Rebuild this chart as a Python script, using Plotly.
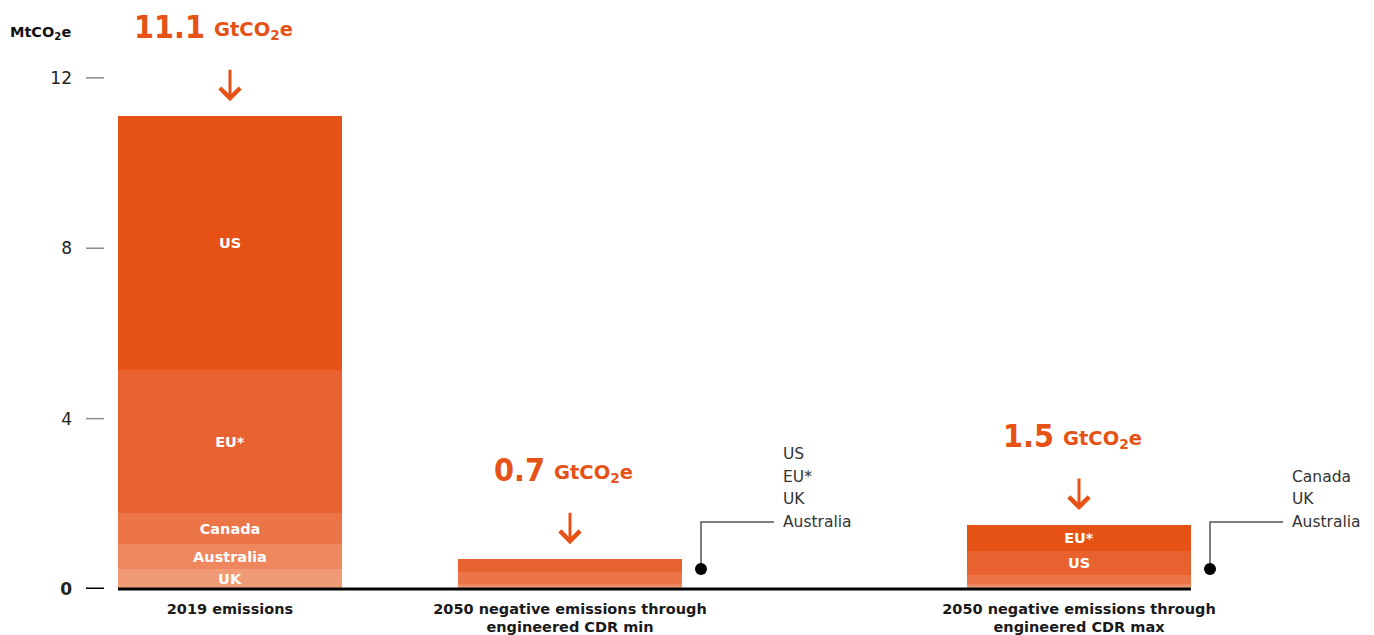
import plotly.graph_objects as go

# ---------------- data ----------------
categories = [
    "2019 emissions",
    "2050 negative emissions through<br>engineered CDR min",
    "2050 negative emissions through<br>engineered CDR max",
]
totals = [11.1, 0.7, 1.5]
# stacked segments, listed bottom -> top
seg_countries = [
    ["UK", "Australia", "Canada", "EU*", "US"],
    ["Australia", "UK", "EU*", "US"],
    ["Australia", "UK", "Canada", "US", "EU*"],
]
seg_values = [
    [0.46, 0.59, 0.73, 3.36, 5.96],
    [0.06, 0.06, 0.28, 0.30],
    [0.07, 0.05, 0.21, 0.57, 0.60],
]
seg_labelled = [
    [True, True, True, True, True],
    [False, False, False, False],
    [False, False, False, True, True],
]
callout_lists = [None, ["US", "EU*", "UK", "Australia"], ["Canada", "UK", "Australia"]]
y_ticks = [0, 4, 8, 12]
y_ticktext = ["<b>0</b>", "4", "8", "12"]

# ---------------- styling / layout ----------------
colors_by_level = ["#F09A76", "#EE875D", "#EB7546", "#E8622F", "#E65216"]
ORANGE = "#E65216"
FONT = "DejaVu Sans"
BIG = "DejaVu Sans Condensed"

OFF = 8  # page body margin
W, H = 1374 - OFF, 635 - OFF
ML, MT = 118 - OFF, 14 - OFF
PLOT_BOTTOM = 589 - OFF
MB = H - PLOT_BOTTOM
MR = 0
PLOT_W = W - ML - MR
PLOT_H = H - MT - MB
Y_MAX = 13.5
PPU = PLOT_H / Y_MAX  # pixels per unit

bar_x = [112, 452, 961]
bar_w = 224

fig = go.Figure()

for i, (countries, vals, lab) in enumerate(zip(seg_countries, seg_values, seg_labelled)):
    for j, (c, v, show) in enumerate(zip(countries, vals, lab)):
        bar_kwargs = dict(
            x=[bar_x[i]], y=[v], width=[bar_w],
            marker=dict(color=colors_by_level[j], line=dict(width=0)),
            name=c, showlegend=False, hoverinfo="name+y",
        )
        if show:
            bar_kwargs.update(
                text=[c], textposition="inside", insidetextanchor="middle", textangle=0,
                textfont=dict(family=FONT, size=14.5, color="white", weight="bold"),
            )
        fig.add_trace(go.Bar(**bar_kwargs))

shapes = []
annotations = []

# baseline
shapes.append(dict(type="line", xref="x", yref="paper", x0=0, x1=bar_x[2] + bar_w / 2,
                   y0=0, y1=0, line=dict(color="black", width=3)))
# y tick dashes (page px 86..104)
for t in y_ticks:
    shapes.append(dict(type="line", xref="paper", yref="y",
                       x0=(86 - 118) / PLOT_W, x1=(104 - 118) / PLOT_W, y0=t, y1=t,
                       line=dict(color="black" if t == 0 else "#8a8a8a", width=3 if t == 0 else 1.5)))

# totals + arrows
for i, tot in enumerate(totals):
    top = sum(seg_values[i])
    annotations.append(dict(
        x=bar_x[i], y=top, xref="x", yref="y", yshift=89, xshift=-23,
        yanchor="middle", xanchor="right", showarrow=False,
        text=f"{tot:g}",
        font=dict(family=BIG, size=32, color=ORANGE, weight="bold"),
    ))
    annotations.append(dict(
        x=bar_x[i], y=top, xref="x", yref="y", yshift=86, xshift=-18,
        yanchor="middle", xanchor="left", showarrow=False,
        text="GtCO<sub>2</sub>e",
        font=dict(family=FONT, size=19.5, color=ORANGE, weight="bold"),
    ))
    annotations.append(dict(
        x=bar_x[i], y=top, xref="x", yref="y", yshift=15, ax=0, ay=-33,
        showarrow=True, arrowhead=4, arrowsize=1.3, arrowwidth=3, arrowcolor=ORANGE, text="",
    ))

# callouts
dot_val = 20 / PPU
elbow_val = 67 / PPU
line_gap = 22.6 / PPU
for i, lst in enumerate(callout_lists):
    if not lst:
        continue
    right = bar_x[i] + bar_w / 2
    dx = right + 19
    ex = right + 92
    tx = right + 99
    shapes.append(dict(type="path", xref="x", yref="y",
                       path=f"M{dx},{dot_val} L{dx},{elbow_val} L{ex},{elbow_val}",
                       line=dict(color="#555555", width=1.5)))
    shapes.append(dict(type="circle", xref="x", yref="y", xsizemode="pixel", ysizemode="pixel",
                       xanchor=dx, yanchor=dot_val, x0=-6, x1=6, y0=-6, y1=6,
                       fillcolor="black", line=dict(color="black", width=0)))
    for k, name in enumerate(reversed(lst)):
        annotations.append(dict(
            x=tx, y=elbow_val + k * line_gap, xref="x", yref="y", xanchor="left", yanchor="middle",
            showarrow=False, text=name, font=dict(family=FONT, size=15.5, color="#333333"),
        ))

# unit label
annotations.append(dict(
    x=(8 - 118) / PLOT_W, y=(589 - 33) / PLOT_H, xref="paper", yref="paper",
    xanchor="left", yanchor="middle", showarrow=False,
    text="<b>MtCO<sub>2</sub>e</b>", font=dict(family=FONT, size=14.5, color="#111111"),
))

fig.update_layout(
    width=W, height=H,
    margin=dict(l=ML, r=MR, t=MT, b=MB),
    paper_bgcolor="white", plot_bgcolor="white",
    barmode="stack",
    uniformtext=dict(minsize=14.5, mode="show"),
    shapes=shapes, annotations=annotations,
    xaxis=dict(range=[0, PLOT_W], tickvals=bar_x, ticktext=categories, showgrid=False,
               zeroline=False, showline=False, ticks="", ticklabelstandoff=9,
               tickfont=dict(family=FONT, size=14.5, color="#1a1a1a", weight="bold")),
    yaxis=dict(range=[0, Y_MAX], tickvals=y_ticks, ticktext=y_ticktext, showgrid=False,
               zeroline=False, showline=False, ticks="", ticklabelstandoff=45,
               tickfont=dict(family=FONT, size=17, color="#222222")),
)

fig.write_html("out.html")
